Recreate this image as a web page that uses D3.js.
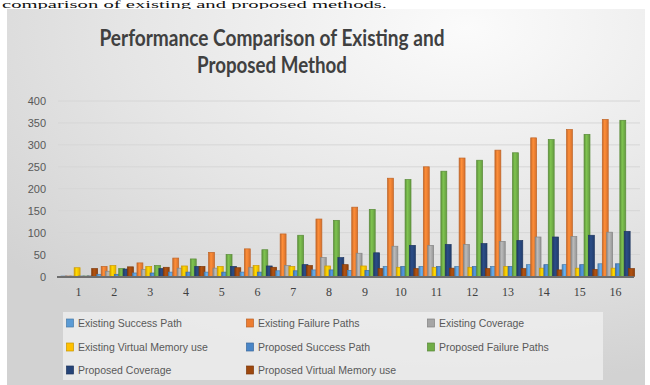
<!DOCTYPE html>
<html><head><meta charset="utf-8">
<script src="https://cdn.jsdelivr.net/npm/d3@7"></script>
<style>html,body{margin:0;padding:0;background:#fff;}svg{display:block;}</style>
</head><body>
<script>
const categories = ["1","2","3","4","5","6","7","8","9","10","11","12","13","14","15","16"];
const seriesNames = ["Existing Success Path","Existing Failure Paths","Existing Coverage","Existing Virtual Memory use","Proposed Success Path","Proposed Failure Paths","Proposed Coverage","Proposed Virtual Memory use"];
const existingSuccess   = [1,5,8,10,10,10,13,15,14,23,23,23,23,27,27,29];
const existingFailure   = [1,23,31,42,55,63,97,131,158,224,250,270,288,316,335,358];
const existingCoverage  = [1,12,16,19,19,21,25,43,53,69,71,73,80,90,91,101];
const existingVM        = [20,25,23,24,23,25,23,24,24,21,21,21,23,19,19,19];
const proposedSuccess   = [1,5,8,10,10,10,13,15,14,23,23,23,23,27,27,29];
const proposedFailure   = [1,18,25,40,50,61,94,128,153,221,240,265,282,312,324,356];
const proposedCoverage  = [1,17,18,23,23,24,27,43,54,71,73,75,82,90,94,103];
const proposedVM        = [18,22,21,23,20,21,25,27,18,18,19,18,18,15,16,18];
const yTicks = [0,50,100,150,200,250,300,350,400];
const colors = ["#5B9BD5","#ED7D31","#A5A5A5","#FFC000","#4A86C8","#70AD47","#264478","#9E480E"];
const seriesValues = [existingSuccess,existingFailure,existingCoverage,existingVM,proposedSuccess,proposedFailure,proposedCoverage,proposedVM];

const W=650,H=385;
const svg=d3.select("body").append("svg").attr("width",W).attr("height",H);
const defs=svg.append("defs");
const bg=defs.append("radialGradient").attr("id","bg").attr("cx","0.72").attr("cy","0.05").attr("r","0.95");
bg.append("stop").attr("offset","0").attr("stop-color","#fbfbfb");
bg.append("stop").attr("offset","0.55").attr("stop-color","#e6e6e6");
bg.append("stop").attr("offset","1").attr("stop-color","#d2d2d2");

// caption line at top (partly shown in reference)
svg.append("text").attr("x",2).attr("y",7.5).attr("font-family","Liberation Serif").attr("font-size",9.5)
  .attr("textLength",385).attr("lengthAdjust","spacingAndGlyphs")
  .attr("fill","#111").text("comparison of existing and proposed methods.");

svg.append("rect").attr("x",7).attr("y",9).attr("width",638).attr("height",376).attr("fill","url(#bg)");

// title
const title=svg.append("g").attr("font-family","Lato").attr("font-weight",700).attr("font-size",22).attr("fill","#404040").attr("text-anchor","middle");
title.append("text").attr("x",272).attr("y",46).attr("textLength",345).attr("lengthAdjust","spacingAndGlyphs").text("Performance Comparison of Existing and");
title.append("text").attr("x",272).attr("y",73).attr("textLength",150).attr("lengthAdjust","spacingAndGlyphs").text("Proposed Method");

const y=d3.scaleLinear().domain([0,400]).range([276.5,101]);
const x0=d3.scaleBand().domain(categories).range([61,633]).paddingInner(0.02).paddingOuter(0);
const x1=d3.scaleBand().domain(d3.range(8)).range([0,x0.bandwidth()]).padding(0);

// gridlines
svg.append("g").selectAll("line").data(yTicks.filter(d=>d>0)).join("line")
  .attr("x1",58).attr("x2",640).attr("y1",d=>y(d)).attr("y2",d=>y(d))
  .attr("stroke","#d6d6d6").attr("stroke-width",1);

// y axis labels
const yAxis=d3.axisLeft(y).tickValues(yTicks).tickSize(0).tickPadding(0);
const ya=svg.append("g").attr("transform","translate(46,0)").call(yAxis);
ya.select(".domain").remove();
ya.selectAll("text").attr("font-family","Liberation Sans").attr("font-size",11).attr("fill","#595959");

// gradients per color
colors.forEach((c,i)=>{
  const g=defs.append("linearGradient").attr("id","g"+i).attr("x1","0").attr("x2","1").attr("y1","0").attr("y2","0");
  const cc=d3.color(c);
  g.append("stop").attr("offset","0").attr("stop-color",cc.darker(0.5));
  g.append("stop").attr("offset","0.4").attr("stop-color",cc.brighter(0.35));
  g.append("stop").attr("offset","1").attr("stop-color",cc.darker(0.3));
});

// bars
const bw=x1.bandwidth()*1.35;
const groups=svg.append("g").selectAll("g").data(categories).join("g")
  .attr("transform",d=>`translate(${x0(d)},0)`);
groups.selectAll("rect").data((d,ci)=>seriesValues.map((s,si)=>({si,v:s[ci]}))).join("rect")
  .attr("x",d=>x1(d.si)).attr("width",bw)
  .attr("y",d=>y(d.v)).attr("height",d=>y(0)-y(d.v))
  .attr("fill",d=>`url(#g${d.si})`)
  .attr("stroke",d=>d3.color(colors[d.si]).darker(0.6)).attr("stroke-width",0.7);

// axis line
svg.append("line").attr("x1",57).attr("x2",634).attr("y1",y(0)+0.5).attr("y2",y(0)+0.5)
  .attr("stroke","#6e6e6e").attr("stroke-width",2);

// x labels
const xAxis=d3.axisBottom(x0).tickSize(0).tickPadding(0);
const xa=svg.append("g").attr("transform","translate(0,287)").call(xAxis);
xa.select(".domain").remove();
xa.selectAll("text").attr("font-family","Liberation Serif").attr("font-size",12).attr("fill","#404040").attr("dy","0.71em");

// legend
svg.append("rect").attr("x",63).attr("y",312).attr("width",540).attr("height",68).attr("fill","#f0f0f0").attr("opacity",0.75);
const lx=[70,250,431], ly=[323,347,370];
const leg=svg.append("g").selectAll("g").data(seriesNames).join("g")
  .attr("transform",(d,i)=>`translate(${lx[i%3]},${ly[Math.floor(i/3)]})`);
leg.append("rect").attr("x",-3.5).attr("y",-4).attr("width",7).attr("height",8)
  .attr("fill",(d,i)=>colors[i]).attr("stroke",(d,i)=>d3.color(colors[i]).darker(0.7)).attr("stroke-width",0.7);
leg.append("text").attr("x",8).attr("y",0).attr("dy","0.35em").attr("font-family","Liberation Sans")
  .attr("font-size",10.5).attr("fill","#595959").text(d=>d);
</script>
</body></html>
